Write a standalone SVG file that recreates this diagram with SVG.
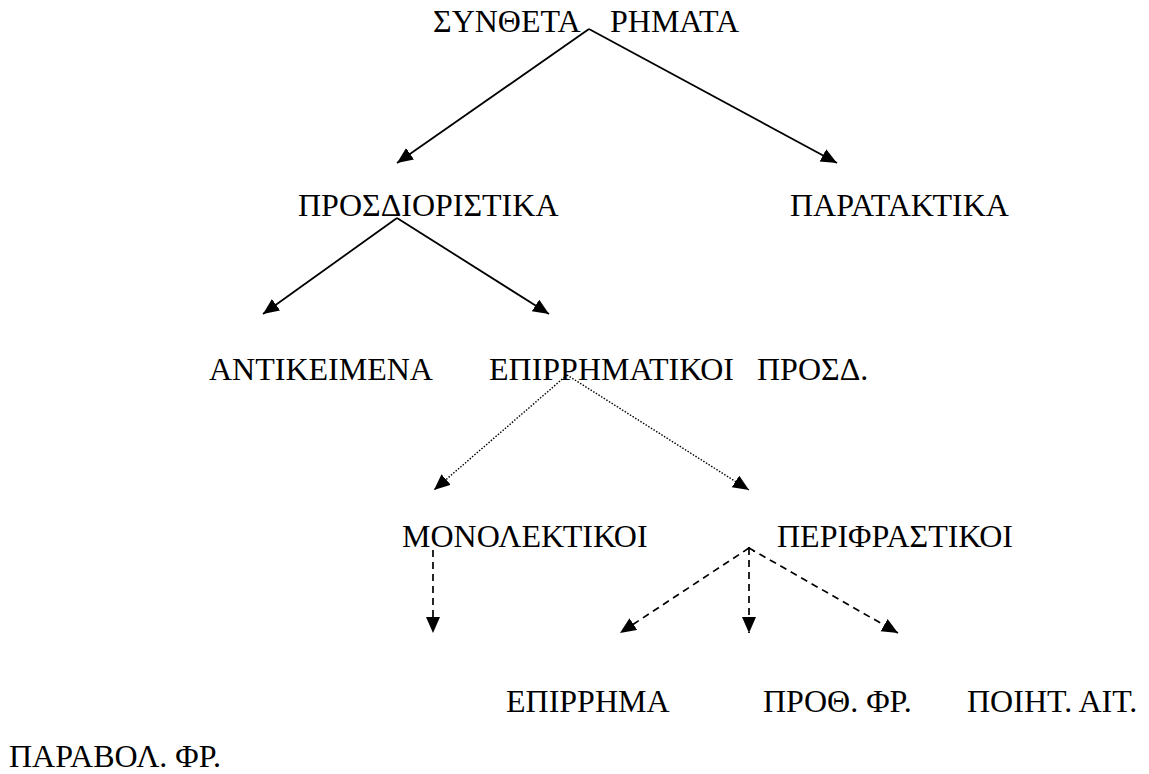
<svg xmlns="http://www.w3.org/2000/svg" width="1149" height="774" viewBox="0 0 1149 774">
<style>
text{font-family:"Liberation Serif","Times New Roman",serif;font-size:32px;fill:#000;}
.c{fill:none;stroke:#000;}
.solid{stroke-width:1.8;}
.dot{stroke-width:1.4;stroke-dasharray:1.5 1.6;}
.dash{stroke-width:1.7;stroke-dasharray:7 5;}
</style>
<defs>
<marker id="ah" markerUnits="userSpaceOnUse" markerWidth="18" markerHeight="16" refX="16" refY="7" orient="auto" viewBox="0 0 18 16">
<path d="M0,0 L16,7 L0,14 z" fill="#000"/>
</marker>
</defs>
<rect width="1149" height="774" fill="#fff"/>
<g id="connectors">
<line class="c solid" x1="589" y1="29" x2="397" y2="163" marker-end="url(#ah)"/>
<line class="c solid" x1="589" y1="29" x2="837" y2="163" marker-end="url(#ah)"/>
<line class="c solid" x1="397" y1="218" x2="263" y2="314" marker-end="url(#ah)"/>
<line class="c solid" x1="397" y1="218" x2="549" y2="314" marker-end="url(#ah)"/>
<line class="c dot" x1="567" y1="375" x2="434" y2="490" marker-end="url(#ah)"/>
<line class="c dot" x1="567" y1="375" x2="749" y2="490" marker-end="url(#ah)"/>
<line class="c dash" x1="433" y1="550" x2="433" y2="633" marker-end="url(#ah)"/>
<line class="c dash" x1="749" y1="548" x2="620" y2="633" marker-end="url(#ah)"/>
<line class="c dash" x1="749" y1="548" x2="749" y2="633" marker-end="url(#ah)"/>
<line class="c dash" x1="749" y1="548" x2="898" y2="633" marker-end="url(#ah)"/>
<polyline class="c" stroke-width="1" points="744,552 749,547 754,552"/>
</g>
<g id="n-syntheta"><text y="32"><tspan x="433">ΣΥΝΘΕΤΑ</tspan><tspan x="610">ΡΗΜΑΤΑ</tspan></text></g>
<g id="n-prosdioristika"><text x="298" y="216">ΠΡΟΣΔΙΟΡΙΣΤΙΚΑ</text></g>
<g id="n-parataktika"><text x="790" y="216">ΠΑΡΑΤΑΚΤΙΚΑ</text></g>
<g id="n-antikeimena"><text x="209" y="380">ΑΝΤΙΚΕΙΜΕΝΑ</text></g>
<g id="n-epirrimatikoi"><text y="380"><tspan x="489">ΕΠΙΡΡΗΜΑΤΙΚΟΙ</tspan><tspan x="757">ΠΡΟΣΔ.</tspan></text></g>
<g id="n-monolektikoi"><text x="402" y="547">ΜΟΝΟΛΕΚΤΙΚΟΙ</text></g>
<g id="n-perifrastikoi"><text x="777" y="547">ΠΕΡΙΦΡΑΣΤΙΚΟΙ</text></g>
<g id="n-epirrima"><text x="506" y="712">ΕΠΙΡΡΗΜΑ</text></g>
<g id="n-proth"><text x="763" y="712">ΠΡΟΘ. ΦΡ.</text></g>
<g id="n-poiit"><text x="967" y="712">ΠΟΙΗΤ. ΑΙΤ.</text></g>
<g id="n-parabol"><text x="9" y="767">ΠΑΡΑΒΟΛ. ΦΡ.</text></g>
</svg>
